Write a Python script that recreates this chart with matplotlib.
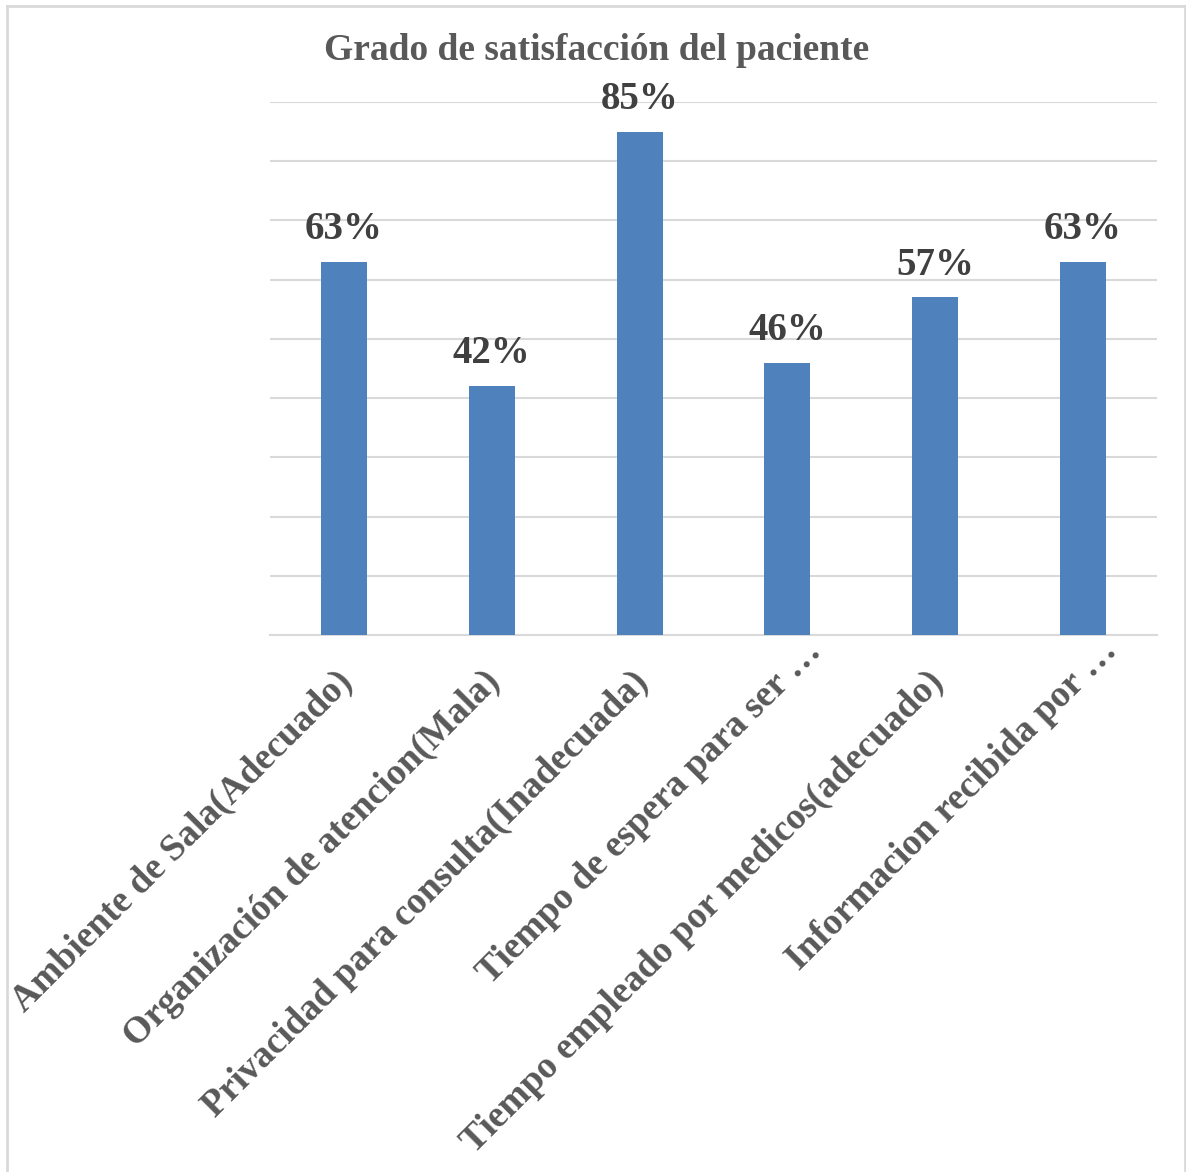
import matplotlib
matplotlib.use("Agg")
import matplotlib.pyplot as plt
from matplotlib.lines import Line2D
from matplotlib.transforms import ScaledTranslation

categories = [
    "Ambiente de Sala(Adecuado)",
    "Organización de atencion(Mala)",
    "Privacidad para consulta(Inadecuada)",
    "Tiempo de espera para ser …",
    "Tiempo empleado por medicos(adecuado)",
    "Informacion recibida por …",
]
values = [63, 42, 85, 46, 57, 63]
title = "Grado de satisfacción del paciente"

plt.rcParams['font.family'] = ['Liberation Serif', 'DejaVu Serif']

fig = plt.figure(figsize=(11.86, 11.72), dpi=100)
ax = fig.add_axes([0.2277, 0.4582, 0.7478, 0.4548])

x = list(range(len(categories)))
ax.bar(x, values, width=0.31, color="#4F81BD", zorder=3)
ax.set_xlim(-0.5, len(categories) - 0.5)
ax.set_ylim(0, 90)
ax.set_yticks(range(0, 91, 10))
ax.yaxis.grid(True, color="#D9D9D9", linewidth=1.5, zorder=0)
ax.tick_params(axis='y', length=0, labelleft=False)
ax.tick_params(axis='x', length=0, pad=10)
for s in ["top", "right", "left"]:
    ax.spines[s].set_visible(False)
ax.spines["bottom"].set_color("#D9D9D9")
ax.spines["bottom"].set_linewidth(1.5)

ax.set_xticks(x)
ax.set_xticklabels(categories, rotation=45, ha="right", rotation_mode="anchor",
                   fontsize=27, fontweight="bold", color="#595959")
for lbl in ax.get_xticklabels():
    if lbl.get_text().endswith("…"):
        dx, dy = 11.9, 11.1
    else:
        dx, dy = -6.7, -11.1
    lbl.set_transform(lbl.get_transform() +
                      ScaledTranslation(dx / 72, dy / 72, fig.dpi_scale_trans))

for xi, v in zip(x, values):
    ax.annotate(f"{v}%", (xi, v), xytext=(0, 10), textcoords="offset points",
                ha="center", va="bottom", fontsize=28, fontweight="bold",
                color="#404040")

fig.text(0.503, 0.957, title, ha="center", va="center", fontsize=27,
         fontweight="bold", color="#595959")

W, H = 1186, 1172
border = dict(color="#D9D9D9", linewidth=2, transform=fig.transFigure)
fig.lines.append(Line2D([7 / W, 7 / W], [0, 1 - 6 / H], **border))
fig.lines.append(Line2D([7 / W, 1185 / W], [1 - 6 / H, 1 - 6 / H], **border))
fig.lines.append(Line2D([1185 / W, 1185 / W], [0, 1 - 6 / H], **border))

fig.savefig("out.png", dpi=100)
